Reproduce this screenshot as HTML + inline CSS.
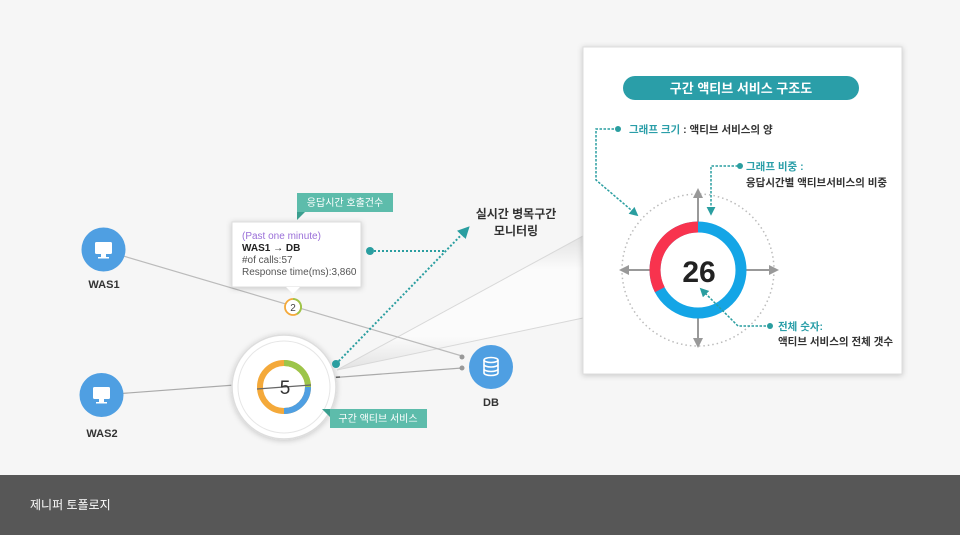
<!DOCTYPE html>
<html><head><meta charset="utf-8"><style>
body{margin:0;width:960px;height:535px;overflow:hidden;background:#f6f6f6;font-family:"Liberation Sans","Noto Sans CJK KR",sans-serif}
svg{display:block}
</style></head><body>
<svg width="960" height="535" viewBox="0 0 960 535" xmlns="http://www.w3.org/2000/svg" font-family="Liberation Sans, Noto Sans CJK KR, sans-serif">
<defs>
<linearGradient id="beam" x1="0" y1="0" x2="0" y2="1"><stop offset="0" stop-color="#e2e2e2"/><stop offset="0.25" stop-color="#fbfbfb"/><stop offset="0.75" stop-color="#fbfbfb"/><stop offset="1" stop-color="#e2e2e2"/></linearGradient>
<filter id="sh" x="-20%" y="-20%" width="140%" height="140%"><feDropShadow dx="0" dy="1" stdDeviation="3" flood-color="#000" flood-opacity="0.2"/></filter>
<marker id="ah" viewBox="0 0 10 10" refX="8" refY="5" markerWidth="6" markerHeight="6" orient="auto"><path d="M0,0 L10,5 L0,10 z" fill="#2a9ea0"/></marker>
<marker id="ga" viewBox="0 0 10 10" refX="8" refY="5" markerWidth="5" markerHeight="5" orient="auto"><path d="M0,0 L10,5 L0,10 z" fill="#999"/></marker>
</defs>
<rect width="960" height="475" fill="#f6f6f6"/>
<!-- beam -->
<polygon points="337,370 583,236 583,318" fill="url(#beam)"/>
<line x1="337" y1="370" x2="583" y2="236" stroke="#d8d8d8"/>
<line x1="337" y1="370" x2="583" y2="318" stroke="#d8d8d8"/>
<!-- edges -->
<line x1="103" y1="250" x2="462" y2="356" stroke="#bbb" stroke-width="1.2"/>
<line x1="101" y1="395" x2="462" y2="368" stroke="#aaa" stroke-width="1.2"/>
<line x1="232" y1="385" x2="340" y2="377" stroke="#666" stroke-width="1.5"/>
<circle cx="462" cy="357" r="2.5" fill="#999"/><circle cx="462" cy="368" r="2.5" fill="#999"/>
<!-- nodes -->
<g fill="#4f9fe2">
<circle cx="103.5" cy="249.5" r="22"/><circle cx="101.5" cy="395" r="22"/><circle cx="491" cy="367" r="22"/>
</g>
<g fill="#fff">
<rect x="95" y="242" width="17" height="12" rx="1.5"/><rect x="101" y="254" width="5" height="3"/><rect x="98" y="257" width="11" height="1.5"/>
<rect x="93" y="387" width="17" height="12" rx="1.5"/><rect x="99" y="399" width="5" height="3"/><rect x="96" y="402" width="11" height="1.5"/>
</g>
<g fill="none" stroke="#fff" stroke-width="1.6">
<ellipse cx="491" cy="360" rx="7" ry="2.5"/><path d="M484,360 v13 a7,2.5 0 0 0 14,0 v-13"/><path d="M484,364.5 a7,2.5 0 0 0 14,0 M484,369 a7,2.5 0 0 0 14,0"/>
</g>
<g font-size="11" font-weight="bold" fill="#333" text-anchor="middle">
<text x="104" y="288">WAS1</text><text x="102" y="437">WAS2</text><text x="491" y="406">DB</text>
</g>
<!-- big node -->
<circle cx="284" cy="387" r="52" fill="#fff" stroke="#ddd" stroke-width="1.5" filter="url(#sh)"/>
<circle cx="284" cy="387" r="46" fill="none" stroke="#e6e6e6" stroke-width="1"/>
<circle cx="284" cy="387" r="24" fill="none" stroke="#f4a93a" stroke-width="6"/>
<path d="M284,363 A24,24 0 0 1 308,387" fill="none" stroke="#9cc54a" stroke-width="6"/>
<path d="M308,387 A24,24 0 0 1 284,411" fill="none" stroke="#4f9fe2" stroke-width="6"/>
<line x1="257" y1="389" x2="311" y2="385" stroke="#666" stroke-width="1.2"/>
<text x="285" y="394" font-size="19" fill="#333" text-anchor="middle">5</text>
<!-- small node 2 -->
<circle cx="293" cy="307" r="8" fill="#fff" stroke="#f4a93a" stroke-width="1.8"/>
<path d="M293,299 A8,8 0 0 1 297,314" fill="none" stroke="#9cc54a" stroke-width="1.8"/>
<text x="293" y="311" font-size="10" fill="#444" text-anchor="middle">2</text>
<!-- tooltip -->
<rect x="232" y="222" width="129" height="65" fill="#fff" stroke="#ddd" filter="url(#sh)"/>
<path d="M286,287 L293,294 L300,287 z" fill="#fff"/>
<g font-size="10">
<text x="242" y="239" fill="#9a6fd8">(Past one minute)</text>
<text x="242" y="251" fill="#222" font-weight="bold">WAS1 → DB</text>
<text x="242" y="263" fill="#555">#of calls:57</text>
<text x="242" y="275" fill="#555">Response time(ms):3,860</text>
</g>
<!-- tags -->
<rect x="297" y="193" width="96" height="19" fill="#5dbcab"/><path d="M297,212 L297,220 L305,212z" fill="#3b9f8f"/>
<text x="345" y="206" font-size="10" fill="#fff" text-anchor="middle">응답시간 호출건수</text>
<rect x="330" y="409" width="97" height="19" fill="#5dbcab"/><path d="M330,409 L322,409 L330,417z" fill="#3b9f8f"/>
<text x="378" y="422" font-size="10" fill="#fff" text-anchor="middle">구간 액티브 서비스</text>
<!-- teal dotted -->
<line x1="336" y1="364" x2="468" y2="228" stroke="#2a9ea0" stroke-width="2" stroke-dasharray="2,2" marker-end="url(#ah)"/>
<line x1="370" y1="251" x2="444" y2="251" stroke="#2a9ea0" stroke-width="2" stroke-dasharray="2,2"/>
<circle cx="370" cy="251" r="4" fill="#2a9ea0"/><circle cx="336" cy="364" r="4" fill="#2a9ea0"/>
<text x="516" y="218" font-size="12" font-weight="bold" fill="#333" text-anchor="middle">실시간 병목구간</text>
<text x="516" y="235" font-size="12" font-weight="bold" fill="#333" text-anchor="middle">모니터링</text>
<!-- panel -->
<rect x="583" y="47" width="319" height="327" fill="#fff" stroke="#ddd" filter="url(#sh)"/>
<rect x="623" y="76" width="236" height="24" rx="12" fill="#2a9ea8"/>
<text x="741" y="93" font-size="13" font-weight="bold" fill="#fff" text-anchor="middle">구간 액티브 서비스 구조도</text>
<circle cx="698" cy="270" r="76" fill="none" stroke="#bbb" stroke-width="1.5" stroke-dasharray="1.5,3"/>
<g stroke="#999" stroke-width="2">
<line x1="698" y1="226" x2="698" y2="190" marker-end="url(#ga)"/>
<line x1="698" y1="314" x2="698" y2="346" marker-end="url(#ga)"/>
<line x1="654" y1="270" x2="621" y2="270" marker-end="url(#ga)"/>
<line x1="742" y1="270" x2="777" y2="270" marker-end="url(#ga)"/>
</g>
<circle cx="698" cy="270" r="43" fill="none" stroke="#14a5e6" stroke-width="11"/>
<path d="M698,227 A43,43 0 0 0 659.8,289.7" fill="none" stroke="#f8334e" stroke-width="11"/>
<text x="699" y="282" font-size="30" font-weight="bold" fill="#222" text-anchor="middle">26</text>
<g stroke="#2a9ea0" stroke-width="1.5" stroke-dasharray="2.5,1.5" fill="none">
<path d="M618,129 L596,129 L596,180 L637,215" marker-end="url(#ah)"/>
<path d="M738,166 L711,166 L711,214" marker-end="url(#ah)"/>
<path d="M770,326 L738,326 L701,289" marker-end="url(#ah)"/>
</g>
<circle cx="618" cy="129" r="3" fill="#2a9ea0"/><circle cx="740" cy="166" r="3" fill="#2a9ea0"/><circle cx="770" cy="326" r="3" fill="#2a9ea0"/>
<g font-size="10.5" font-weight="bold">
<text x="629" y="133"><tspan fill="#2a9ea8">그래프 크기</tspan><tspan fill="#333"> : 액티브 서비스의 양</tspan></text>
<text x="746" y="170" fill="#2a9ea8">그래프 비중 :</text>
<text x="746" y="186" fill="#333">응답시간별 액티브서비스의 비중</text>
<text x="778" y="330" fill="#2a9ea8">전체 숫자:</text>
<text x="778" y="345" fill="#333">액티브 서비스의 전체 갯수</text>
</g>
<!-- footer -->
<rect x="0" y="475" width="960" height="60" fill="#575757"/>
<text x="30" y="509" font-size="12" fill="#fff">제니퍼 토폴로지</text>
</svg>
</body></html>
